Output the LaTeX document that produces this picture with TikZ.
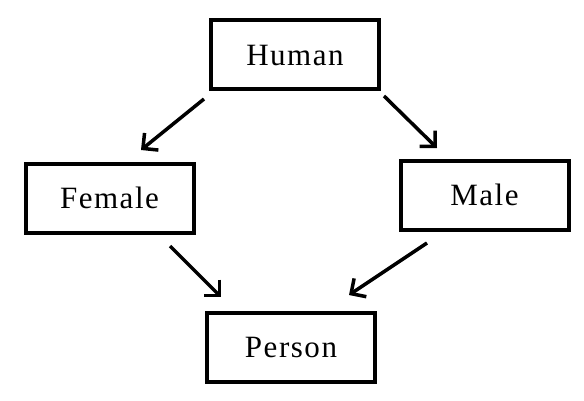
\documentclass[tikz,border=0pt]{standalone}
\usepackage{fontspec}
\setmainfont{Liberation Serif}[LetterSpace=5]
\usetikzlibrary{arrows.meta}
\begin{document}
\begin{tikzpicture}[x=1pt,y=-1pt,
  box/.style={draw=black, line width=4pt, minimum width=168pt, minimum height=69pt,
    inner sep=0pt, text height=20.5pt, text depth=0pt, font=\fontsize{31}{35}\selectfont},
  link/.style={line width=3.5pt, -{Straight Barb[length=11pt,width=22pt]}}]
\useasboundingbox (0,0) rectangle (584,401);
\node[box] (human) at (295,55) {Human};
\node[box] (female) at (109.5,198.5) {Female};
\node[box] (male) at (484.5,195.5) {Male};
\node[box] (person) at (291,347) {Person};
\coordinate (a1s) at (204,99);
\coordinate (a1e) at (141,150);
\coordinate (a2s) at (384,96);
\coordinate (a2e) at (437,148);
\coordinate (a3s) at (170,246);
\coordinate (a3e) at (221,297);
\coordinate (a4s) at (427,243);
\coordinate (a4e) at (349,295);
\draw[link] (a1s) -- (a1e);
\draw[link] (a2s) -- (a2e);
\draw[link] (a3s) -- (a3e);
\draw[link] (a4s) -- (a4e);
\end{tikzpicture}
\end{document}
